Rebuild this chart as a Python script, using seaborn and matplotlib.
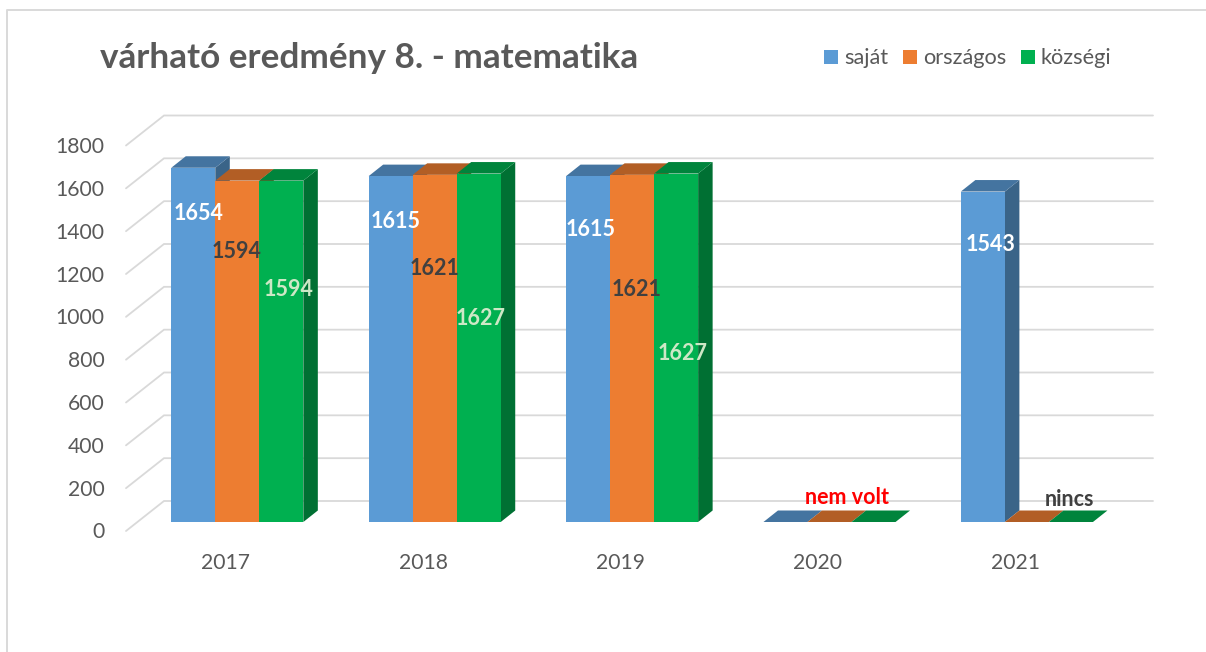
#!/usr/bin/env python3
"""várható eredmény 8. - matematika: clustered bars with a drawn 3D look."""
import matplotlib
matplotlib.use('Agg')
import matplotlib.pyplot as plt
import matplotlib.transforms as mtrans
from matplotlib.lines import Line2D
from matplotlib.patches import Polygon
import pandas as pd
import seaborn as sns

# ── Data ──
years = ['2017', '2018', '2019', '2020', '2021']
sajat = [1654, 1615, 1615, 0, 1543]
orszagos = [1594, 1621, 1621, 0, 0]
kozsegi = [1594, 1627, 1627, 0, 0]
series_names = ['saját', 'országos', 'községi']
y_ticks = [0, 200, 400, 600, 800, 1000, 1200, 1400, 1600, 1800]
title = 'várható eredmény 8. - matematika'

# ── Style ──
W, H = 1206, 652
front = ['#5B9BD5', '#ED7D31', '#00B050']
top_face = ['#4474A0', '#B25E25', '#00843C']
side_face = ['#3A6488', '#985020', '#007033']
GRID = '#D9D9D9'
TEXT = '#595959'
DARK = '#404040'
PALE = '#CDE8C6'

# axes in pixels: front plane of the bars
Y0, Y1800 = 522, 136.5
X_FIRST, X_STEP = 237.3, 197.4
BAR_DX, BAR_DY = 14.5, 11.5  # bar depth in pixels

sns.set_theme(style='white')
plt.rcParams['font.family'] = ['Lato', 'DejaVu Sans']

df = pd.DataFrame({
    'year': years * 3,
    'series': [n for n in series_names for _ in years],
    'value': sajat + orszagos + kozsegi,
})

fig = plt.figure(figsize=(W / 100, H / 100), dpi=100, facecolor='white')
ax_left = X_FIRST - X_STEP / 2
ax = fig.add_axes([ax_left / W, 1 - Y0 / H, 5 * X_STEP / W, (Y0 - Y1800) / H])
ax.patch.set_alpha(0)

sns.barplot(data=df, x='year', y='value', hue='series', hue_order=series_names,
            order=years, palette=front, saturation=1, width=0.669, gap=0,
            linewidth=0, ax=ax, legend=True, zorder=4)
ax.set_xlim(-0.5, 4.5)
ax.set_ylim(0, 1800)
ax.set_xlabel('')
ax.set_ylabel('')
sns.despine(ax=ax, left=True, bottom=True)

to_x = 1 / X_STEP
to_y = 1800 / (Y0 - Y1800)


def px(x, y):
    """pixel position -> data coordinates"""
    return (x - X_FIRST) * to_x, (Y0 - y) * to_y


# back wall + side wall gridlines
for v in y_ticks:
    yp = Y0 - v / to_y
    pts = [px(126, yp + 9), px(164, yp - 21), px(1153, yp - 21)]
    ax.plot(*zip(*pts), color=GRID, lw=1.3, clip_on=False, zorder=1,
            solid_joinstyle='miter')

# fake depth, taken from the bars seaborn drew
ddx, ddy = BAR_DX * to_x, BAR_DY * to_y
for i, cont in enumerate(ax.containers):
    for bar in cont:
        x0, w, h = bar.get_x(), bar.get_width(), bar.get_height()
        x1 = x0 + w
        z = 2 + 0.1 * i
        ax.add_patch(Polygon([(x1, 0), (x1 + ddx, ddy), (x1 + ddx, h + ddy), (x1, h)],
                             fc=side_face[i], ec='none', clip_on=False, zorder=z))
        ax.add_patch(Polygon([(x0, h), (x0 + ddx, h + ddy), (x1 + ddx, h + ddy), (x1, h)],
                             fc=top_face[i], ec='none', clip_on=False, zorder=z + 0.05))

# ticks
ax.set_yticks(y_ticks)
ax.set_yticklabels([str(v) for v in y_ticks])
ax.tick_params(axis='y', length=0, pad=24.5, labelsize=15.2, labelcolor=TEXT)
ax.tick_params(axis='x', length=0, pad=22.5, labelsize=15.2, labelcolor=TEXT)
y_shift = mtrans.ScaledTranslation(0, -8.5 / 100, fig.dpi_scale_trans)
x_shift = mtrans.ScaledTranslation(-11.5 / 100, 0, fig.dpi_scale_trans)
for lab in ax.get_yticklabels():
    lab.set_transform(lab.get_transform() + y_shift)
for lab in ax.get_xticklabels():
    lab.set_transform(lab.get_transform() + x_shift)

# legend
sns.move_legend(ax, 'center left', bbox_to_anchor=(824 / W, 1 - 58.5 / H),
                bbox_transform=fig.transFigure, ncols=3, frameon=False, title=None,
                fontsize=15.7, handlelength=0.64, handleheight=0.64, handletextpad=0.27,
                columnspacing=0.68, labelcolor=TEXT, borderaxespad=0, borderpad=0)

# value labels, hand-placed in the original
labels = [
    ('1654', 199, 213, 'white'), ('1594', 237, 251, DARK), ('1594', 289, 289, PALE),
    ('1615', 396, 222, 'white'), ('1621', 435, 268, DARK), ('1627', 481, 318, PALE),
    ('1615', 591, 230, 'white'), ('1621', 637, 290, DARK), ('1627', 683, 353, PALE),
    ('1543', 991, 245, 'white'), ('nem volt', 847, 498, '#FF0000'), ('nincs', 1069, 499, DARK),
]
for txt, x, y, col in labels:
    fig.text(x / W, 1 - y / H, txt, color=col, fontsize=15.5, fontweight='bold',
             ha='center', va='center', zorder=10)

fig.text(100 / W, 1 - 58 / H, title, color=TEXT, fontsize=25.3, fontweight='bold',
         ha='left', va='center')

# chart frame, cut by the screenshot on the right and bottom
fig.add_artist(Line2D([7 / W, 7 / W, 1], [0, 1 - 10 / H, 1 - 10 / H], color=GRID, lw=1.4))

fig.savefig('out.png', dpi=100, facecolor='white')
plt.close(fig)
